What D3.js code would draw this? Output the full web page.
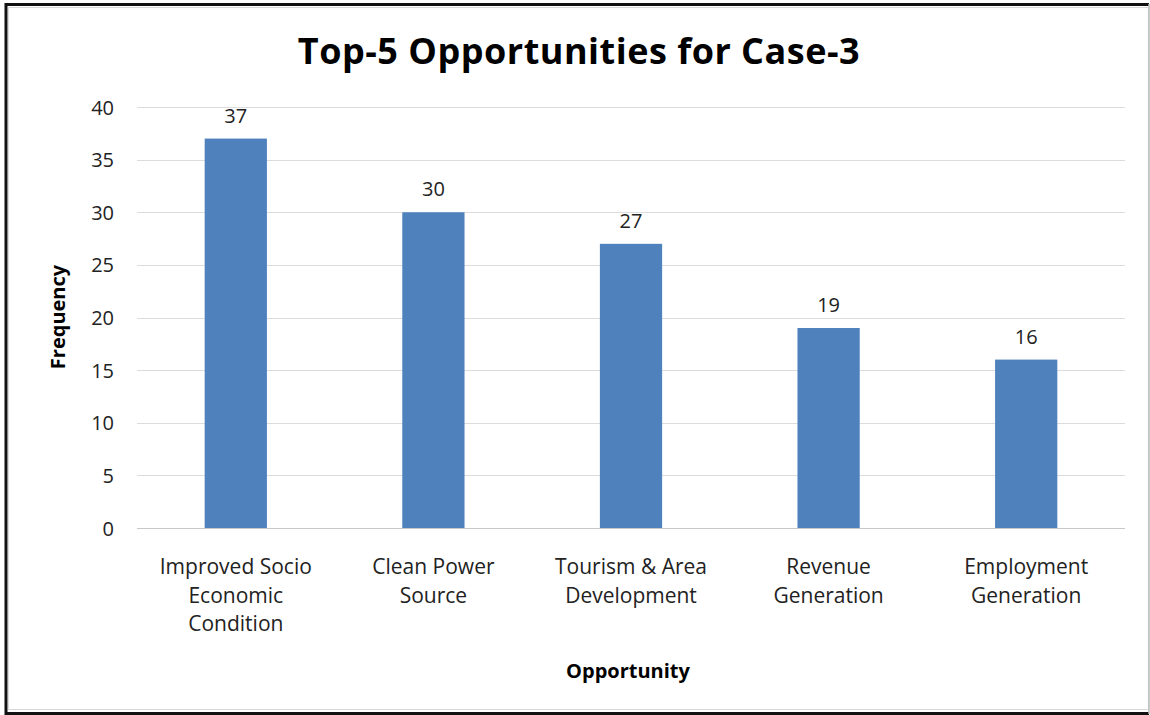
<!DOCTYPE html>
<html>
<head>
<meta charset="utf-8">
<script src="https://cdn.jsdelivr.net/npm/d3@7"></script>
<style>
  html, body { margin: 0; padding: 0; background: #fff; }
  svg { display: block; }
</style>
</head>
<body>
<svg id="chart" width="1150" height="715"></svg>
<script>
// Opportunity categories (multi-line labels) and their frequencies
const categories = [
  ["Improved Socio", "Economic", "Condition"],
  ["Clean Power", "Source"],
  ["Tourism & Area", "Development"],
  ["Revenue", "Generation"],
  ["Employment", "Generation"]
];
const frequencies = [37, 30, 27, 19, 16];
const yTicks = [0, 5, 10, 15, 20, 25, 30, 35, 40];

const titleText = "Top-5 Opportunities for Case-3";
const xTitle = "Opportunity";
const yTitle = "Frequency";

const W = 1150, H = 715;
const margin = { left: 137, right: 25, top: 107, bottom: 187 };
const fontFamily = "'Open Sans', Lato, sans-serif";

const svg = d3.select("#chart");

// Frame with a dark edge and a faint inner line
svg.append("rect").attr("x", 0).attr("y", 0).attr("width", W).attr("height", H).attr("fill", "#fff");
svg.append("rect").attr("x", 8.5).attr("y", 7.5).attr("width", W - 10).attr("height", H - 13)
  .attr("fill", "none").attr("stroke", "#d9d9d9").attr("stroke-width", 1);
svg.append("path")
  .attr("d", `M${W - 1},${713.5} H6 V4.5 H${W - 1}`)
  .attr("fill", "none").attr("stroke", "#111").attr("stroke-width", 3);
svg.append("line").attr("x1", W - 1).attr("x2", W - 1).attr("y1", 4).attr("y2", 714)
  .attr("stroke", "#bbb").attr("stroke-width", 1.5);

const x = d3.scaleBand()
  .domain(d3.range(categories.length))
  .range([margin.left, W - margin.right])
  .padding(0);

const y = d3.scaleLinear()
  .domain([0, 40])
  .range([H - margin.bottom, margin.top]);

const barW = x.bandwidth() * 0.315;

// Horizontal gridlines (the zero line doubles as the category axis)
svg.append("g")
  .selectAll("line")
  .data(yTicks)
  .join("line")
  .attr("x1", margin.left)
  .attr("x2", W - margin.right)
  .attr("y1", d => Math.round(y(d)) + 0.5)
  .attr("y2", d => Math.round(y(d)) + 0.5)
  .attr("stroke", d => d === 0 ? "#c8c8c8" : "#dcdcdc")
  .attr("stroke-width", 1);

// Y-axis tick labels
const yAxis = d3.axisLeft(y).tickValues(yTicks).tickSize(0).tickPadding(0);
const gy = svg.append("g")
  .attr("transform", `translate(${margin.left - 23},0)`)
  .call(yAxis);
gy.select(".domain").remove();
gy.selectAll("text")
  .attr("font-family", fontFamily)
  .attr("font-size", 20)
  .attr("fill", "#222")
  .attr("dy", "0.35em");

// Bars
svg.append("g")
  .selectAll("rect")
  .data(frequencies)
  .join("rect")
  .attr("x", (d, i) => x(i) + x.bandwidth() / 2 - barW / 2)
  .attr("y", d => y(d))
  .attr("width", barW)
  .attr("height", d => y(0) - y(d))
  .attr("fill", "#4F81BD");

// Value labels above bars
svg.append("g")
  .selectAll("text")
  .data(frequencies)
  .join("text")
  .attr("x", (d, i) => x(i) + x.bandwidth() / 2)
  .attr("y", d => y(d) - 16)
  .attr("text-anchor", "middle")
  .attr("font-family", fontFamily)
  .attr("font-size", 20)
  .attr("fill", "#222")
  .text(d => d);

// Category labels, wrapped onto several lines
const catG = svg.append("g");
categories.forEach((lines, i) => {
  const t = catG.append("text")
    .attr("x", x(i) + x.bandwidth() / 2)
    .attr("y", 574)
    .attr("text-anchor", "middle")
    .attr("font-family", fontFamily)
    .attr("font-size", 21)
    .attr("fill", "#222");
  lines.forEach((ln, k) => {
    t.append("tspan")
      .attr("x", x(i) + x.bandwidth() / 2)
      .attr("y", 574 + k * 28.5)
      .text(ln);
  });
});

// Chart title
svg.append("text")
  .attr("x", 579)
  .attr("y", 64)
  .attr("text-anchor", "middle")
  .attr("font-family", fontFamily)
  .attr("font-size", 36)
  .attr("font-weight", "bold")
  .attr("letter-spacing", 0.5)
  .attr("fill", "#000")
  .text(titleText);

// Axis titles
svg.append("text")
  .attr("x", 628)
  .attr("y", 678)
  .attr("text-anchor", "middle")
  .attr("font-family", fontFamily)
  .attr("font-size", 20)
  .attr("font-weight", "bold")
  .attr("fill", "#000")
  .text(xTitle);

svg.append("text")
  .attr("transform", `translate(65,317) rotate(-90)`)
  .attr("text-anchor", "middle")
  .attr("font-family", fontFamily)
  .attr("font-size", 20)
  .attr("font-weight", "bold")
  .attr("fill", "#000")
  .text(yTitle);
</script>
</body>
</html>
